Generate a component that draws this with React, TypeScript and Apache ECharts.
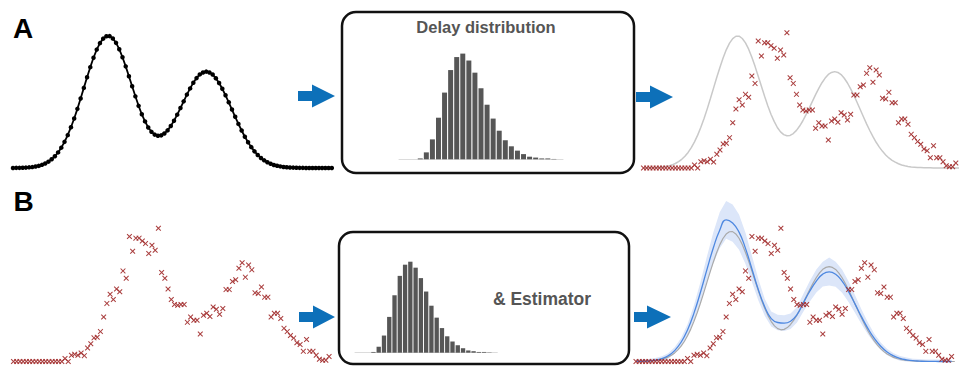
import React, { useEffect, useRef } from "react";
import * as echarts from "echarts";

// true incidence curve (index 0..99)
const truth = [
  0.000, 0.001, 0.001, 0.002, 0.003, 0.005, 0.007, 0.011, 0.016, 0.024,
  0.034, 0.048, 0.066, 0.089, 0.118, 0.154, 0.198, 0.249, 0.309, 0.375,
  0.448, 0.526, 0.607, 0.687, 0.764, 0.835, 0.897, 0.946, 0.980, 0.998,
  0.999, 0.981, 0.948, 0.900, 0.839, 0.770, 0.695, 0.619, 0.543, 0.471,
  0.407, 0.353, 0.307, 0.274, 0.253, 0.244, 0.247, 0.261, 0.285, 0.318,
  0.358, 0.404, 0.454, 0.505, 0.556, 0.603, 0.646, 0.681, 0.709, 0.724,
  0.730, 0.724, 0.708, 0.680, 0.644, 0.600, 0.551, 0.498, 0.443, 0.388,
  0.334, 0.284, 0.237, 0.195, 0.158, 0.126, 0.099, 0.076, 0.058, 0.044,
  0.032, 0.023, 0.017, 0.012, 0.008, 0.006, 0.004, 0.003, 0.002, 0.001,
  0.001, 0, 0, 0, 0, 0, 0, 0, 0, 0,
];

// observed (delayed, noisy) counts (index 0..98)
const observed = [
  0, 0, 0, 0, 0, 0, 0, 0, 0, 0,
  0, 0, 0, 0, 0, 0, 0.023, 0.0, 0.048, 0.055,
  0.048, 0.066, 0.045, 0.104, 0.136, 0.182, 0.187, 0.23, 0.343, 0.447,
  0.517, 0.477, 0.558, 0.536, 0.697, 0.641, 0.962, 0.848, 0.949, 0.949,
  0.927, 0.907, 0.831, 0.894, 0.856, 1.025, 0.684, 0.641, 0.558, 0.477,
  0.439, 0.432, 0.439, 0.439, 0.301, 0.343, 0.318, 0.318, 0.212, 0.356,
  0.371, 0.346, 0.419, 0.402, 0.364, 0.407, 0.553, 0.553, 0.616, 0.629,
  0.717, 0.76, 0.649, 0.742, 0.705, 0.528, 0.523, 0.573, 0.495, 0.495,
  0.343, 0.371, 0.371, 0.331, 0.255, 0.23, 0.2, 0.18, 0.144, 0.131,
  0.078, 0.169, 0.078, 0.078, 0.048, 0.017, 0.01, 0.01, 0.038,
];

// estimate & band at even indices 0,2,...,98
const estimate = [
  0.001, 0.002, 0.004, 0.010, 0.022, 0.044, 0.084, 0.148, 0.243, 0.372,
  0.531, 0.705, 0.873, 1.010, 1.090, 1.065, 0.995, 0.870, 0.712, 0.552,
  0.420, 0.330, 0.300, 0.295, 0.310, 0.360, 0.453, 0.542, 0.619, 0.672,
  0.690, 0.671, 0.618, 0.538, 0.443, 0.345, 0.255, 0.178, 0.117, 0.073,
  0.043, 0.024, 0.013, 0.006, 0.003, 0.001, 0.001, 0, 0, 0,
];
const estLow = [
  0, 0, 0, 0, 0.004, 0.024, 0.059, 0.115, 0.199, 0.312,
  0.452, 0.605, 0.753, 0.872, 0.945, 0.922, 0.860, 0.750, 0.611, 0.470,
  0.350, 0.270, 0.240, 0.235, 0.250, 0.300, 0.384, 0.462, 0.530, 0.576,
  0.585, 0.575, 0.529, 0.458, 0.375, 0.289, 0.209, 0.142, 0.088, 0.049,
  0.023, 0.006, 0, 0, 0, 0, 0, 0, 0, 0,
];
const estHigh = [
  0.016, 0.017, 0.019, 0.026, 0.040, 0.064, 0.109, 0.181, 0.287, 0.432,
  0.610, 0.805, 0.993, 1.148, 1.235, 1.208, 1.130, 0.990, 0.813, 0.634,
  0.480, 0.385, 0.360, 0.355, 0.370, 0.420, 0.522, 0.622, 0.708, 0.768,
  0.800, 0.767, 0.707, 0.618, 0.511, 0.401, 0.301, 0.214, 0.146, 0.097,
  0.063, 0.042, 0.030, 0.022, 0.019, 0.016, 0.016, 0.015, 0.015, 0.015,
];

// delay distribution histogram (27 bins incl. empty padding)
const delayProb = [
  0, 0, 0, 0.001, 0.008, 0.023, 0.048, 0.077, 0.103, 0.118, 0.122, 0.114,
  0.100, 0.082, 0.063, 0.047, 0.033, 0.022, 0.015, 0.010, 0.006, 0.003,
  0.002, 0.001, 0.001, 0.0004, 0,
];
const delayBins = delayProb.map((_, i) => String(i));

const titleA = "Delay distribution";
const titleB = "& Estimator";

const RED = "#a02828";
const BLUE_ARROW = "#0d70b9";
const CROSS =
  "path://M1.3,0 L5,3.7 L8.7,0 L10,1.3 L6.3,5 L10,8.7 L8.7,10 L5,6.3 L1.3,10 L0,8.7 L3.7,5 L0,1.3 Z";

function arrow(x0: number, xh: number, xt: number, cy: number) {
  return {
    type: "polygon",
    shape: {
      points: [
        [x0, cy - 5],
        [xh, cy - 5],
        [xh, cy - 11.5],
        [xt, cy],
        [xh, cy + 11.5],
        [xh, cy + 5],
        [x0, cy + 5],
      ],
    },
    style: { fill: BLUE_ARROW },
  };
}

export default function App() {
  const ref = useRef<HTMLDivElement>(null);
  useEffect(() => {
    document.body.style.margin = "0";
    const chart = echarts.init(ref.current!, undefined, { renderer: "svg" });
    const W = 318.8;
    const grids = [
      { left: 13, top: 36, width: W, height: 132 },
      { left: 643.5, top: 36, width: W, height: 132 },
      { left: 13.5, top: 231.5, width: W, height: 130 },
      { left: 636, top: 231.5, width: W, height: 130 },
      { left: 399, top: 53.6, width: 164, height: 105.7 },
      { left: 355, top: 261.7, width: 142.3, height: 91 },
    ];
    const valX = (g: number) => ({
      type: "value",
      gridIndex: g,
      min: 0,
      max: 99,
      show: false,
    });
    const valY = (g: number) => ({
      type: "value",
      gridIndex: g,
      min: 0,
      max: 1,
      show: false,
    });
    const catX = (g: number) => ({
      type: "category",
      gridIndex: g,
      data: delayBins,
      axisLine: { show: true, lineStyle: { color: "#dcdcdc", width: 1 } },
      axisTick: { show: false },
      axisLabel: { show: false },
    });
    const histY = (g: number) => ({
      type: "value",
      gridIndex: g,
      min: 0,
      max: 0.122,
      show: false,
      splitLine: { show: false },
    });
    const truthPts = truth.map((v, i) => [i, v]);
    const obsPts = observed.map((v, i) => [i, v]);
    const estPts = estimate.map((v, k) => [2 * k, v]);
    const scatter = (g: number) => ({
      type: "scatter",
      xAxisIndex: g,
      yAxisIndex: g,
      data: obsPts,
      symbol: CROSS,
      symbolSize: 5.5,
      clip: false,
      itemStyle: { color: RED, opacity: 0.9 },
      z: 5,
    });
    const histBar = (g: number) => ({
      type: "bar",
      xAxisIndex: g,
      yAxisIndex: g,
      data: delayProb,
      barCategoryGap: "18%",
      itemStyle: { color: "#565656" },
    });

    const option: any = {
      animation: false,
      grid: grids,
      xAxis: [valX(0), valX(1), valX(2), valX(3), catX(4), catX(5)],
      yAxis: [valY(0), valY(1), valY(2), valY(3), histY(4), histY(5)],
      series: [
        {
          type: "line",
          xAxisIndex: 0,
          yAxisIndex: 0,
          data: truthPts,
          symbol: "circle",
          symbolSize: 4.5,
          showSymbol: true,
          clip: false,
          lineStyle: { color: "#000", width: 1.8 },
          itemStyle: { color: "#000" },
        },
        {
          type: "line",
          xAxisIndex: 1,
          yAxisIndex: 1,
          data: truthPts,
          symbol: "none",
          clip: false,
          lineStyle: { color: "#c9c9c9", width: 1.5 },
        },
        scatter(1),
        scatter(2),
        {
          type: "custom",
          coordinateSystem: "cartesian2d",
          xAxisIndex: 3,
          yAxisIndex: 3,
          data: [[0, 0]],
          clip: false,
          renderItem: (_p: any, api: any) => {
            const pts: number[][] = [];
            estHigh.forEach((v, k) => pts.push(api.coord([2 * k, v])));
            for (let k = estLow.length - 1; k >= 0; k--) {
              pts.push(api.coord([2 * k, estLow[k]]));
            }
            return {
              type: "polygon",
              shape: { points: pts },
              style: { fill: "#dce6f9" },
            };
          },
        },
        {
          type: "line",
          xAxisIndex: 3,
          yAxisIndex: 3,
          data: truthPts,
          symbol: "none",
          clip: false,
          lineStyle: { color: "#a9a9a9", width: 1.2 },
        },
        {
          type: "line",
          xAxisIndex: 3,
          yAxisIndex: 3,
          data: estPts,
          symbol: "none",
          smooth: true,
          clip: false,
          lineStyle: { color: "#4e88e0", width: 1.3 },
        },
        scatter(3),
        histBar(4),
        histBar(5),
      ],
      graphic: [
        {
          type: "rect",
          shape: { x: 342, y: 12, width: 292, height: 161, r: 14 },
          style: { fill: "none", stroke: "#111", lineWidth: 2.5 },
        },
        {
          type: "rect",
          shape: { x: 339, y: 232, width: 290, height: 132, r: 14 },
          style: { fill: "none", stroke: "#111", lineWidth: 2.5 },
        },
        arrow(298, 312, 335, 96),
        arrow(636, 650, 673, 97),
        arrow(299, 313, 335, 317),
        arrow(634, 647, 671, 317),
        {
          type: "text",
          x: 486,
          y: 27,
          style: {
            text: titleA,
            fill: "#555",
            fontSize: 16.5,
            fontWeight: "bold",
            fontFamily: "Liberation Sans, Arial, sans-serif",
            textAlign: "center",
            textVerticalAlign: "middle",
          },
        },
        {
          type: "text",
          x: 542,
          y: 299,
          style: {
            text: titleB,
            fill: "#555",
            fontSize: 17.5,
            fontWeight: "bold",
            fontFamily: "Liberation Sans, Arial, sans-serif",
            textAlign: "center",
            textVerticalAlign: "middle",
          },
        },
        {
          type: "text",
          x: 23,
          y: 28,
          style: {
            text: "A",
            fill: "#000",
            fontSize: 28,
            fontWeight: "bold",
            fontFamily: "Liberation Sans, Arial, sans-serif",
            textAlign: "center",
            textVerticalAlign: "middle",
          },
        },
        {
          type: "text",
          x: 23.5,
          y: 201,
          style: {
            text: "B",
            fill: "#000",
            fontSize: 28,
            fontWeight: "bold",
            fontFamily: "Liberation Sans, Arial, sans-serif",
            textAlign: "center",
            textVerticalAlign: "middle",
          },
        },
      ],
    };
    chart.setOption(option);
    return () => chart.dispose();
  }, []);
  return <div ref={ref} style={{ width: 959, height: 366 }} />;
}
